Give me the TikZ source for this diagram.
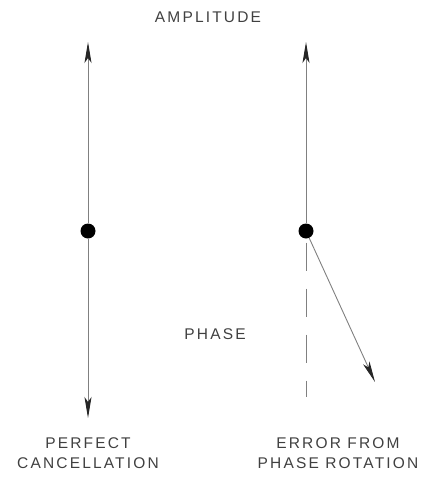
\documentclass[tikz,border=0pt]{standalone}
\usepackage{fontspec}
\setmainfont{Liberation Sans}
\usetikzlibrary{arrows.meta}
\tikzset{
    vector/.style={draw=black!50, line width=0.9pt,
        -{Stealth[length=21pt, width=7pt, inset=5pt, black!85]}},
    pivot/.style={circle, fill=black, inner sep=0pt, minimum size=15pt},
    label text/.style={text=black!75, align=center,
        font=\fontsize{15.5}{20}\selectfont\addfontfeatures{LetterSpace=14}},
}
\begin{document}
\begin{tikzpicture}[x=1pt, y=-1pt]
    \useasboundingbox (0, 0) rectangle (432, 477);

    \node[label text] (amplitude) at (208, 17) {AMPLITUDE};
    \node[label text] (phase) at (215, 334) {PHASE};

    % perfect cancellation
    \begin{scope}[shift={(88, 231)}]
        \coordinate (lefttop) at (0, -189);
        \coordinate (leftbottom) at (0, 187);
        \node[pivot] (leftdot) at (0, 0) {};

        \draw[vector] (leftdot) -- (lefttop);
        \draw[vector] (leftdot) -- (leftbottom);

        \node[label text] (leftcaption) at (0, 222) {PERFECT\\CANCELLATION};
    \end{scope}

    % error from phase rotation
    \begin{scope}[shift={(306, 231)}]
        \coordinate (righttop) at (0, -189);
        \coordinate (rightbottom) at (0, 166);
        \coordinate (rotated) at (69, 151);
        \node[pivot] (rightdot) at (0, 0) {};

        \draw[vector] (rightdot) -- (righttop);
        \draw[black!50, line width=0.9pt, dash pattern=on 28pt off 18pt,
            dash phase=-4pt] (rightdot) -- (rightbottom);
        \draw[vector] (rightdot) -- (rotated);

        \node[label text] (rightcaption) at (32, 222) {ERROR FROM\\PHASE ROTATION};
    \end{scope}
\end{tikzpicture}
\end{document}
